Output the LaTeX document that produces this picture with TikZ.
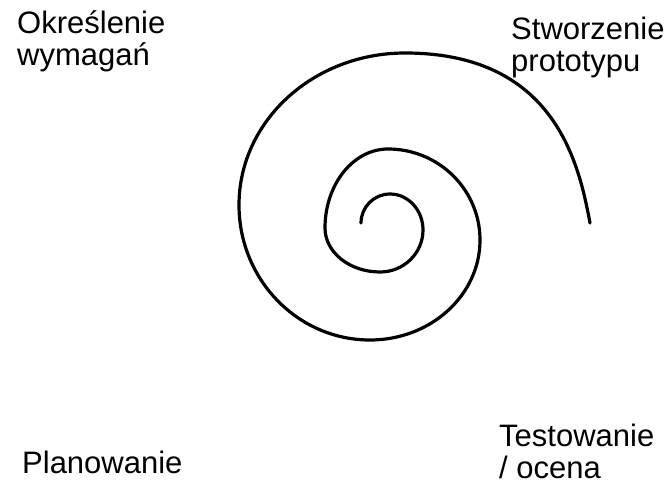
\documentclass[tikz,border=0pt]{standalone}
\usepackage{fontspec}
\setmainfont{Liberation Sans}
\usetikzlibrary{positioning}
\definecolor{ink}{RGB}{0,0,0}
\tikzset{
  phase/.style={font=\fontsize{31}{32}\selectfont,text=ink,align=left,inner sep=0pt,anchor=base west},
  spiral/.style={draw=ink,line width=3.2pt,line cap=round,line join=round},
}
\begin{document}
\begin{tikzpicture}[x=1pt,y=-1pt]
  \useasboundingbox (0,0) rectangle (672,487);
  % labels sit on the baseline of their last line
  \node[phase] (req) at (17,66) {Określenie\\wymagań};
  \node[phase] (proto) at (511,71) {Stworzenie\\prototypu};
  \node[phase] (plan) at (22,473) {Planowanie};
  \node[phase] (test) at (499,478) {Testowanie\\/ ocena};
  \coordinate (core) at (361,223);
  \coordinate (tip) at (590,223);
  % spiral, quarter by quarter from the centre outwards
  \draw[spiral] (core)
    \foreach \a/\rx/\ry in {180/29/29,270/33/36,0/43/42,90/55/44,180/63/79,
                            270/92/91,0/110/100,90/131/135,180/166/152}{
      arc[start angle=\a,delta angle=90,x radius=\rx,y radius=\ry]}
    .. controls (555,53) and (579,164) .. (tip);
\end{tikzpicture}
\end{document}
